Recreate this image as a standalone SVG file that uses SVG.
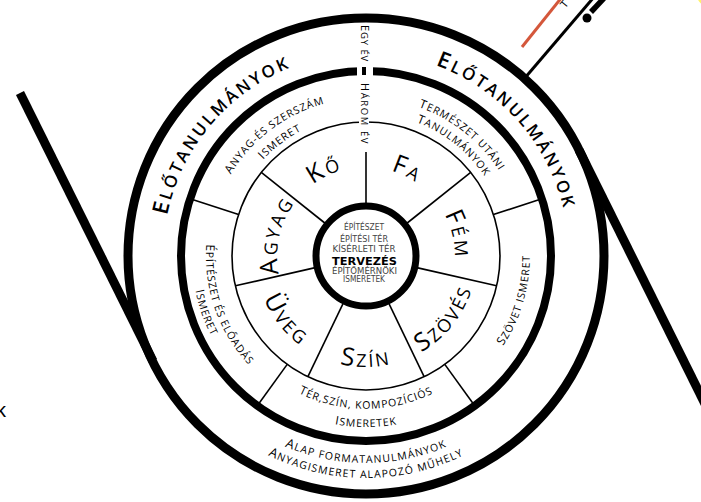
<svg xmlns="http://www.w3.org/2000/svg" width="701" height="502" viewBox="0 0 701 502">
<style>
.ln{fill:none;stroke:#000}
.thin{fill:none;stroke:#000;stroke-width:1.6}
.lbl{font-family:"Open Sans","DejaVu Sans",sans-serif;fill:#000;text-anchor:middle}
.ring{font-size:17px;letter-spacing:2.6px;font-weight:600}
.ring .c{font-size:22px}
.mat{font-size:18px;letter-spacing:2.5px;font-weight:500}
.mat .c{font-size:25px}
.band{font-size:10.5px;letter-spacing:0.9px;font-weight:500}
.band .c{font-size:12px}
.base{font-size:10.5px;letter-spacing:1.1px;font-weight:500}
.base .c{font-size:13px}
.ctr{font-family:"DejaVu Sans",sans-serif;font-size:8px;fill:#444;text-anchor:middle}
</style>
<defs>
<path id="oL" d="M190.2,357.5 A203,203 0 0 1 435.4,65.2"/>
<path id="oR" d="M291.6,67.1 A203,203 0 0 1 544.4,352.9"/>
<path id="oB1" d="M171.5,326.8 A207,207 0 0 0 560.5,326.8"/>
<path id="oB2" d="M157.4,331.9 A222,222 0 0 0 574.6,331.9"/>
<path id="mTL1" d="M214.9,302.2 A158,158 0 0 1 452.0,123.5"/>
<path id="mTL2" d="M231.2,297.2 A141,141 0 0 1 442.8,137.7"/>
<path id="mTR1" d="M283.4,121.3 A158,158 0 0 1 515.8,306.1"/>
<path id="mTR2" d="M291.3,134.1 A143,143 0 0 1 501.6,301.4"/>
<path id="mR" d="M376.0,419.7 A164,164 0 0 0 463.5,124.2"/>
<path id="mB1" d="M222.3,308.3 A153,153 0 0 0 509.7,308.3"/>
<path id="mB2" d="M205.3,314.5 A171,171 0 0 0 526.7,314.5"/>
<path id="mL1" d="M264.2,132.5 A160,160 0 0 0 364.6,416.0"/>
<path id="mL2" d="M255.3,121.7 A174,174 0 0 0 364.5,430.0"/>
<path id="kKo" d="M277.4,264.8 A89,89 0 0 1 428.2,192.3"/>
<path id="kFa" d="M303.9,192.3 A89,89 0 0 1 454.6,264.8"/>
<path id="kFem" d="M376.8,167.7 A89,89 0 0 1 414.5,330.6"/>
<path id="kAgyag" d="M317.7,330.7 A89,89 0 0 1 355.0,167.7"/>
<path id="kSzoves" d="M330.6,361.2 A111,111 0 0 0 460.7,198.2"/>
<path id="kSzin" d="M261.7,294.0 A111,111 0 0 0 470.3,294.0"/>
<path id="kUveg" d="M271.3,198.2 A111,111 0 0 0 401.4,361.2"/>
</defs>
<rect width="701" height="502" fill="#fff"/>

<g id="connectors">
<line class="ln" x1="20" y1="93" x2="153" y2="361" stroke-width="9"/>
<line class="ln" x1="579" y1="150" x2="712" y2="418" stroke-width="9"/>
<line class="ln" x1="524" y1="79" x2="600" y2="-10" stroke-width="3"/>
<line x1="522" y1="47" x2="562" y2="-3" stroke="#d4573b" stroke-width="3"/>
<line x1="591" y1="12" x2="606" y2="-4" stroke="#000" stroke-width="5.5"/>
<circle cx="587" cy="18" r="4.5" fill="#000"/>
<circle cx="712" cy="-8" r="16" fill="#fff36a"/>
</g>

<g id="rings">
<circle class="ln" cx="366" cy="256" r="238" stroke-width="9"/>
<circle class="ln" cx="366" cy="256" r="185" stroke-width="8"/>
<circle class="thin" cx="366" cy="256" r="134"/>
</g>

<g id="dividers" class="thin">
<line x1="366" y1="152" x2="366" y2="204"/>
<line x1="325.4" y1="223.5" x2="261.3" y2="172.3"/>
<line x1="406.6" y1="223.5" x2="470.7" y2="172.3"/>
<line x1="416.7" y1="267.6" x2="496.6" y2="285.8"/>
<line x1="388.6" y1="302.9" x2="424.1" y2="376.7"/>
<line x1="343.4" y1="302.9" x2="307.9" y2="376.7"/>
<line x1="315.3" y1="267.6" x2="235.4" y2="285.8"/>
<line x1="493.4" y1="214.6" x2="541.9" y2="198.8"/>
<line x1="444.8" y1="364.4" x2="474.7" y2="405.7"/>
<line x1="287.2" y1="364.4" x2="257.3" y2="405.7"/>
<line x1="238.6" y1="214.6" x2="190.1" y2="198.8"/>
</g>

<g id="yearmark">
<rect x="357" y="60" width="16" height="20" fill="#fff"/>
<rect x="359" y="114" width="10" height="14" fill="#fff"/>
<rect x="362" y="67" width="4" height="8" fill="#000"/>
<text class="lbl" style="font-size:9.5px;text-anchor:start;letter-spacing:0.9px;font-weight:500" transform="translate(360.5,25) rotate(90)"><tspan style="font-size:11px">E</tspan>GY ÉV</text>
<text class="lbl" style="font-size:9.5px;text-anchor:start;letter-spacing:1.6px;font-weight:500" transform="translate(360.5,83) rotate(90)"><tspan style="font-size:11px">H</tspan>ÁROM ÉV</text>
</g>

<g id="center">
<circle class="ln" cx="366" cy="256" r="50" stroke-width="7" fill="#fff"/>
<text class="ctr" x="364" y="230" textLength="40" lengthAdjust="spacingAndGlyphs">ÉPÍTÉSZET</text>
<text class="ctr" x="364" y="241.5" textLength="48" lengthAdjust="spacingAndGlyphs">ÉPÍTÉSI TÉR</text>
<text class="ctr" x="364" y="251.5" textLength="63" lengthAdjust="spacingAndGlyphs">KÍSÉRLETI TÉR</text>
<text class="ctr" x="364.5" y="265" style="font-size:10.5px;font-weight:bold;fill:#000" textLength="65" lengthAdjust="spacingAndGlyphs">TERVEZÉS</text>
<text class="ctr" x="364.5" y="274" textLength="65" lengthAdjust="spacingAndGlyphs">ÉPÍTŐMÉRNÖKI</text>
<text class="ctr" x="364" y="282" textLength="42" lengthAdjust="spacingAndGlyphs">ISMERETEK</text>
</g>

<g id="elotanulmanyok-bal"><text class="lbl ring"><textPath href="#oL" startOffset="50%"><tspan class="c">E</tspan>LŐTANULMÁNYOK</textPath></text></g>
<g id="elotanulmanyok-jobb"><text class="lbl ring"><textPath href="#oR" startOffset="50%"><tspan class="c">E</tspan>LŐTANULMÁNYOK</textPath></text></g>
<g id="alap">
<text class="lbl base"><textPath href="#oB1" startOffset="50%"><tspan class="c">A</tspan>LAP FORMATANULMÁNYOK</textPath></text>
<text class="lbl base"><textPath href="#oB2" startOffset="50%"><tspan class="c">A</tspan>NYAGISMERET ALAPOZÓ MŰHELY</textPath></text>
</g>

<g id="anyag-szerszam">
<text class="lbl band"><textPath href="#mTL1" startOffset="50%"><tspan class="c">A</tspan>NYAG-ÉS SZERSZÁM</textPath></text>
<text class="lbl band"><textPath href="#mTL2" startOffset="50%"><tspan class="c">I</tspan>SMERET</textPath></text>
</g>
<g id="termeszet">
<text class="lbl band"><textPath href="#mTR1" startOffset="50%"><tspan class="c">T</tspan>ERMÉSZET UTÁNI</textPath></text>
<text class="lbl band"><textPath href="#mTR2" startOffset="50%"><tspan class="c">T</tspan>ANULMÁNYOK</textPath></text>
</g>
<g id="szovet"><text class="lbl band"><textPath href="#mR" startOffset="50%"><tspan class="c">S</tspan>ZÖVET ISMERET</textPath></text></g>
<g id="ter-szin">
<text class="lbl band"><textPath href="#mB1" startOffset="50%"><tspan class="c">T</tspan>ÉR,SZÍN, KOMPOZÍCIÓS</textPath></text>
<text class="lbl band"><textPath href="#mB2" startOffset="50%"><tspan class="c">I</tspan>SMERETEK</textPath></text>
</g>
<g id="epiteszet">
<text class="lbl band"><textPath href="#mL1" startOffset="50%"><tspan class="c">É</tspan>PÍTÉSZET ÉS ELŐADÁS</textPath></text>
<text class="lbl band"><textPath href="#mL2" startOffset="50%"><tspan class="c">I</tspan>SMERET</textPath></text>
</g>

<g id="ko"><text class="lbl mat"><textPath href="#kKo" startOffset="50%"><tspan class="c">K</tspan>Ő</textPath></text></g>
<g id="fa"><text class="lbl mat"><textPath href="#kFa" startOffset="50%"><tspan class="c">F</tspan>A</textPath></text></g>
<g id="fem"><text class="lbl mat"><textPath href="#kFem" startOffset="50%"><tspan class="c">F</tspan>ÉM</textPath></text></g>
<g id="szoves"><text class="lbl mat"><textPath href="#kSzoves" startOffset="50%"><tspan class="c">S</tspan>ZÖVÉS</textPath></text></g>
<g id="szin"><text class="lbl mat"><textPath href="#kSzin" startOffset="50%"><tspan class="c">S</tspan>ZÍN</textPath></text></g>
<g id="uveg"><text class="lbl mat"><textPath href="#kUveg" startOffset="50%"><tspan class="c">Ü</tspan>VEG</textPath></text></g>
<g id="agyag"><text class="lbl mat"><textPath href="#kAgyag" startOffset="50%"><tspan class="c">A</tspan>GYAG</textPath></text></g>

<g id="edge-text">
<text x="-4" y="417" style="font-family:'Liberation Sans',sans-serif;font-size:20px">k</text>
<text style="font-family:'Liberation Sans',sans-serif;font-size:11px" transform="translate(565,9) rotate(-50)">T</text>
</g>
</svg>
